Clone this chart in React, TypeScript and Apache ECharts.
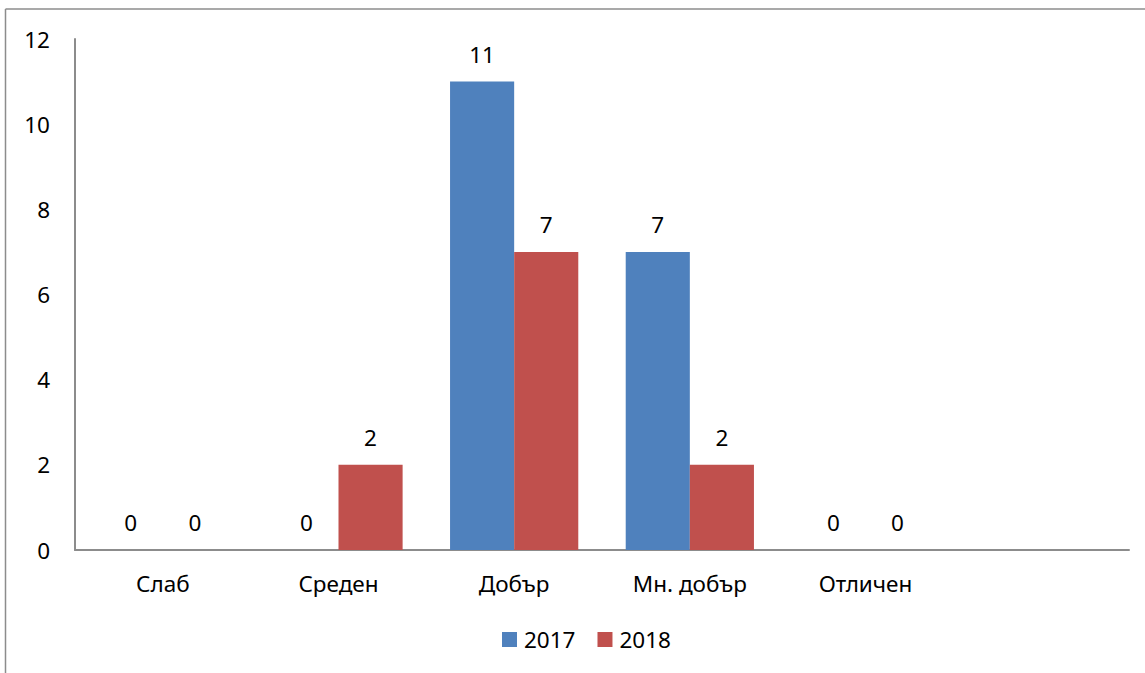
import React, { useEffect, useRef } from "react";
import * as echarts from "echarts";

const categories = ["Слаб", "Среден", "Добър", "Мн. добър", "Отличен", ""];
const series2017 = [0, 0, 11, 7, 0, null];
const series2018 = [0, 2, 7, 2, 0, null];
const seriesNames = ["2017", "2018"];
const yMax = 12;
const yInterval = 2;

const FONT = "'Noto Sans', sans-serif";
const FS = 22.5;

export default function App() {
  const ref = useRef<HTMLDivElement>(null);
  useEffect(() => {
    document.body.style.margin = "0";
    const chart = echarts.init(ref.current!, null, { renderer: "svg" });
    const label = {
      show: true,
      position: "top",
      distance: 16,
      color: "#000",
      fontSize: FS,
      fontFamily: FONT,
    };
    chart.setOption({
      animation: false,
      textStyle: { fontFamily: FONT },
      graphic: [
        { type: "line", shape: { x1: 5.5, y1: 9, x2: 1145, y2: 9 }, style: { stroke: "#8c8c8c", lineWidth: 1.5 } },
        { type: "line", shape: { x1: 5.5, y1: 9, x2: 5.5, y2: 673 }, style: { stroke: "#8c8c8c", lineWidth: 1.5 } },
      ],
      grid: { left: 75, right: 16, top: 39, bottom: 123, containLabel: false },
      legend: {
        data: seriesNames,
        bottom: 17,
        left: 497,
        itemWidth: 15,
        itemHeight: 15,
        itemGap: 22,
        icon: "rect",
        textStyle: { fontSize: FS, color: "#000", fontFamily: FONT, padding: [0, 0, 0, 2] },
      },
      xAxis: {
        type: "category",
        data: categories,
        axisLine: { lineStyle: { color: "#8c8c8c", width: 2 } },
        axisTick: { show: false },
        axisLabel: { color: "#000", fontSize: FS, fontFamily: FONT, margin: 22, interval: 0 },
        splitLine: { show: false },
      },
      yAxis: {
        type: "value",
        min: 0,
        max: yMax,
        interval: yInterval,
        axisLine: { show: true, lineStyle: { color: "#8c8c8c", width: 2 } },
        axisTick: { show: false },
        splitLine: { show: false },
        axisLabel: { color: "#000", fontSize: FS, fontFamily: FONT, margin: 25 },
      },
      series: [
        {
          name: seriesNames[0],
          type: "bar",
          data: series2017,
          itemStyle: { color: "#4F81BD" },
          barGap: "0%",
          barCategoryGap: "27%",
          label,
        },
        {
          name: seriesNames[1],
          type: "bar",
          data: series2018,
          itemStyle: { color: "#C0504D" },
          barGap: "0%",
          barCategoryGap: "27%",
          label,
        },
      ],
    });
    return () => chart.dispose();
  }, []);
  return <div ref={ref} style={{ width: 1145, height: 673, position: "absolute", left: 0, top: 0 }} />;
}
